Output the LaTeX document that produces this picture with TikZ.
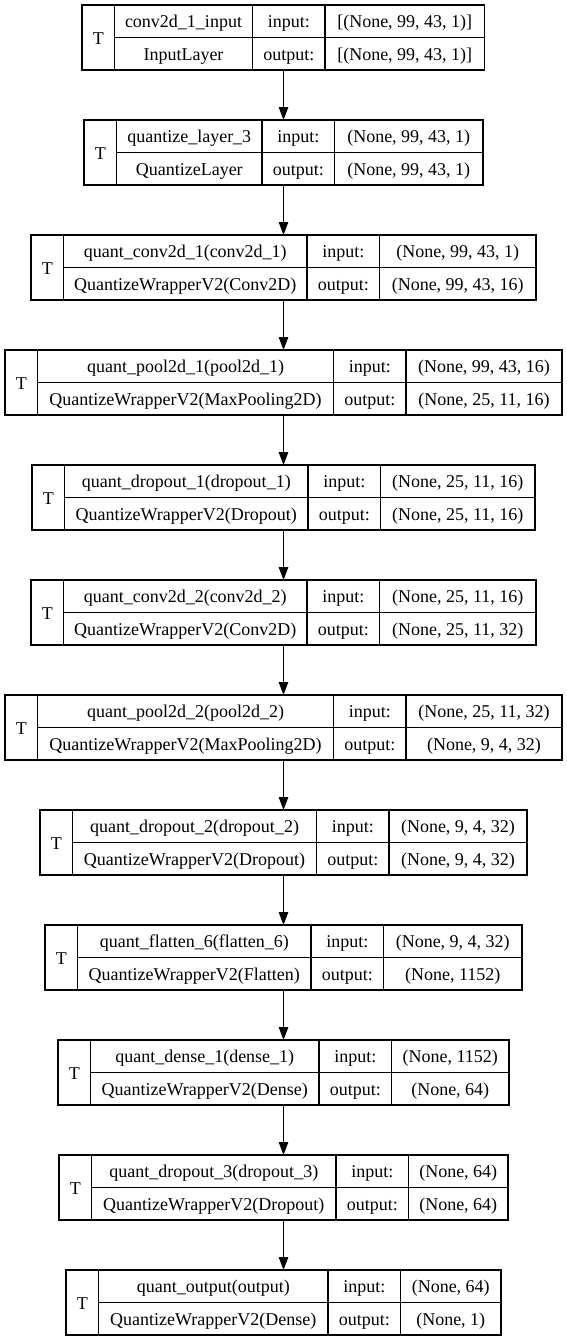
\documentclass[tikz,border=0pt]{standalone}
\usepackage{fontspec}
\setmainfont{Liberation Serif}
\newfontfamily\layerfont{Liberation Serif}
\usetikzlibrary{arrows.meta}

\tikzset{
  layerbox/.style={draw, line width=1.2pt, inner sep=0pt, outer sep=0pt, minimum height=65pt},
  cell/.style={draw, line width=1.2pt, inner sep=0pt, outer sep=0pt, minimum height=32.5pt,
    text height=13pt, text depth=0pt, font=\layerfont\fontsize{18}{20}\selectfont},
  flow/.style={-{Triangle[length=13pt,width=9.5pt]}, line width=1.2pt},
}

\begin{document}
\begin{tikzpicture}[x=1pt, y=-1pt]
  \useasboundingbox (0,0) rectangle (567,1339);

  % one box per layer: x of left edge, T column, name column, input column, right edge
  \foreach \i/\xa/\xb/\xc/\xd/\xe/\lname/\lclass/\shin/\shout in {
    1/82/114.5/252.5/325/484.5/conv2d\_1\_input/InputLayer/{[(None, 99, 43, 1)]}/{[(None, 99, 43, 1)]},
    2/84/116.5/262/334.5/483/quantize\_layer\_3/QuantizeLayer/{(None, 99, 43, 1)}/{(None, 99, 43, 1)},
    3/31/63.5/307/379.5/536/quant\_conv2d\_1(conv2d\_1)/QuantizeWrapperV2(Conv2D)/{(None, 99, 43, 1)}/{(None, 99, 43, 16)},
    4/5/37.5/333.5/406/562/quant\_pool2d\_1(pool2d\_1)/QuantizeWrapperV2(MaxPooling2D)/{(None, 99, 43, 16)}/{(None, 25, 11, 16)},
    5/32/64.5/308/380.5/535/quant\_dropout\_1(dropout\_1)/QuantizeWrapperV2(Dropout)/{(None, 25, 11, 16)}/{(None, 25, 11, 16)},
    6/31/63.5/307/379.5/536/quant\_conv2d\_2(conv2d\_2)/QuantizeWrapperV2(Conv2D)/{(None, 25, 11, 16)}/{(None, 25, 11, 32)},
    7/5/37.5/333.5/406/562/quant\_pool2d\_2(pool2d\_2)/QuantizeWrapperV2(MaxPooling2D)/{(None, 25, 11, 32)}/{(None, 9, 4, 32)},
    8/40/72.5/316.5/389/527/quant\_dropout\_2(dropout\_2)/QuantizeWrapperV2(Dropout)/{(None, 9, 4, 32)}/{(None, 9, 4, 32)},
    9/45/77.5/311/383.5/522/quant\_flatten\_6(flatten\_6)/QuantizeWrapperV2(Flatten)/{(None, 9, 4, 32)}/{(None, 1152)},
    10/58/90.5/319/391.5/509/quant\_dense\_1(dense\_1)/QuantizeWrapperV2(Dense)/{(None, 1152)}/{(None, 64)},
    11/59/91.5/336/408.5/508/quant\_dropout\_3(dropout\_3)/QuantizeWrapperV2(Dropout)/{(None, 64)}/{(None, 64)},
    12/66/98.5/328/400.5/501/quant\_output(output)/QuantizeWrapperV2(Dense)/{(None, 64)}/{(None, 1)}%
  }{
    \pgfmathsetmacro\ytop{5+(\i-1)*115}
    \node[layerbox, minimum width={(\xe-\xa)*1pt}] (L\i) at (283.5, \ytop+32.5) {};
    \node[cell, minimum width={(\xb-\xa)*1pt}, minimum height=65pt] (L\i-t) at ({(\xa+\xb)/2}, \ytop+32.5) {T};
    \node[cell, minimum width={(\xc-\xb)*1pt}] (L\i-name) at ({(\xb+\xc)/2}, \ytop+16.25) {\lname};
    \node[cell, minimum width={(\xc-\xb)*1pt}] (L\i-class) at ({(\xb+\xc)/2}, \ytop+48.75) {\lclass};
    \node[cell, minimum width={(\xd-\xc)*1pt}] (L\i-in) at ({(\xc+\xd)/2}, \ytop+16.25) {input:};
    \node[cell, minimum width={(\xd-\xc)*1pt}] (L\i-out) at ({(\xc+\xd)/2}, \ytop+48.75) {output:};
    \node[cell, minimum width={(\xe-\xd)*1pt}] (L\i-inshape) at ({(\xd+\xe)/2}, \ytop+16.25) {\shin};
    \node[cell, minimum width={(\xe-\xd)*1pt}] (L\i-outshape) at ({(\xd+\xe)/2}, \ytop+48.75) {\shout};
  }

  % connectors
  \foreach \i [evaluate=\i as \j using int(\i+1)] in {1,...,11}
    \draw[flow] (L\i.south) -- (L\j.north);
\end{tikzpicture}
\end{document}
